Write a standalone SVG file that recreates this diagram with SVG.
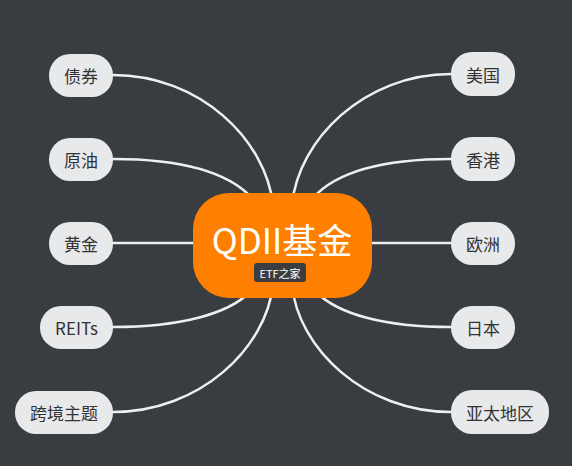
<svg xmlns="http://www.w3.org/2000/svg" width="572" height="466" viewBox="0 0 572 466">
<style>
.bg{fill:#393c41}
.edge{fill:none;stroke:#eeeff0;stroke-width:2.5;stroke-linecap:round}
.node rect{fill:#e8e9eb}
.node text{font-family:"Noto Sans CJK SC","Noto Sans",sans-serif;font-size:17px;fill:#333;text-anchor:middle;dominant-baseline:central}
.root rect.main{fill:#ff8000}
.root text.title{font-family:"Noto Sans CJK SC","Noto Sans",sans-serif;font-size:35px;fill:#fff;text-anchor:middle;dominant-baseline:central}
.root rect.tag{fill:#3b3d41}
.root text.tag{font-family:"Noto Sans CJK SC","Noto Sans",sans-serif;font-size:11px;fill:#fff;text-anchor:middle;dominant-baseline:central}
</style>
<rect class="bg" x="0" y="0" width="572" height="466"/>
<g id="connectors">
<path class="edge" d="M113,75 C200,75 266,140 273,205"/>
<path class="edge" d="M113,159 C180,159 228,172 252,198"/>
<path class="edge" d="M113,243 L200,243"/>
<path class="edge" d="M113,327 C180,327 228,314 250,292"/>
<path class="edge" d="M113,412 C200,412 266,348 273,285"/>
<path class="edge" d="M451,74 C364,74 298,140 292,205"/>
<path class="edge" d="M451,159 C384,159 336,172 313,198"/>
<path class="edge" d="M451,243 L365,243"/>
<path class="edge" d="M451,327 C384,327 338,314 316,292"/>
<path class="edge" d="M451,412 C364,412 298,348 292,285"/>
</g>
<g id="root" class="root">
<rect class="main" x="193" y="193" width="179" height="105" rx="36"/>
<text class="title" x="282" y="238">QDII基金</text>
<rect class="tag" x="254" y="263" width="52" height="19" rx="3"/>
<text class="tag" x="280" y="272.5">ETF之家</text>
</g>
<g id="n-bond" class="node"><rect x="49" y="54" width="64" height="43" rx="21"/><text x="81" y="75.5">债券</text></g>
<g id="n-oil" class="node"><rect x="49" y="138" width="64" height="43" rx="21"/><text x="81" y="159.5">原油</text></g>
<g id="n-gold" class="node"><rect x="49" y="222" width="64" height="43" rx="21"/><text x="81" y="243.5">黄金</text></g>
<g id="n-reits" class="node"><rect x="40" y="306" width="73" height="43" rx="21"/><text x="76.5" y="327.5">REITs</text></g>
<g id="n-cross" class="node"><rect x="15" y="391" width="98" height="43" rx="21"/><text x="64" y="412.5">跨境主题</text></g>
<g id="n-us" class="node"><rect x="451" y="52" width="64" height="44" rx="21"/><text x="483" y="74">美国</text></g>
<g id="n-hk" class="node"><rect x="451" y="137" width="64" height="44" rx="21"/><text x="483" y="159">香港</text></g>
<g id="n-eu" class="node"><rect x="451" y="222" width="64" height="43" rx="21"/><text x="483" y="243.5">欧洲</text></g>
<g id="n-jp" class="node"><rect x="451" y="306" width="64" height="43" rx="21"/><text x="483" y="327.5">日本</text></g>
<g id="n-ap" class="node"><rect x="451" y="390" width="98" height="44" rx="21"/><text x="500" y="412">亚太地区</text></g>
</svg>
